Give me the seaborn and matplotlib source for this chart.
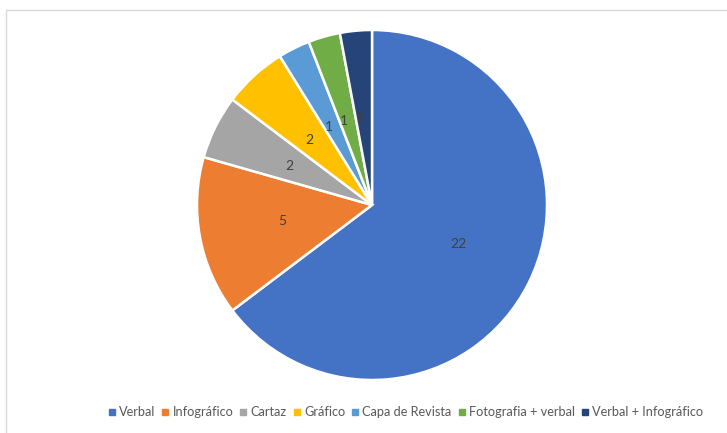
import matplotlib
matplotlib.use("Agg")
import matplotlib.pyplot as plt
from matplotlib.lines import Line2D
from matplotlib.patches import Rectangle
import seaborn as sns

categories = ["Verbal", "Infográfico", "Cartaz", "Gráfico", "Capa de Revista",
              "Fotografia + verbal", "Verbal + Infográfico"]
counts = [22, 5, 2, 2, 1, 1, 1]
colors = ["#4472C4", "#ED7D31", "#A5A5A5", "#FFC000", "#5B9BD5", "#70AD47", "#264478"]

sns.set_theme(style="white")
plt.rcParams["font.family"] = ["Lato", "DejaVu Sans"]

W, H = 727, 433
fig = plt.figure(figsize=(W / 100, H / 100), dpi=100)
fig.patch.set_facecolor("white")

# outer chart frame
fig.patches.append(Rectangle((6 / W, -0.1), 1.2, (H - 10) / H + 0.1,
                             transform=fig.transFigure, fill=False,
                             edgecolor="#D9D9D9", linewidth=1.0))

cx, cy, r = 372, 205, 175
ax = fig.add_axes([(cx - r) / W, (H - cy - r) / H, 2 * r / W, 2 * r / H])
palette = sns.color_palette(colors)
wedges, texts = ax.pie(counts, colors=palette, startangle=90, counterclock=False,
                       labels=[str(c) for c in counts], labeldistance=0.5,
                       radius=1.0,
                       wedgeprops=dict(edgecolor="white", linewidth=1.8),
                       textprops=dict(color="#404040", fontsize=10))
ax.set_xlim(-1, 1)
ax.set_ylim(-1, 1)
ax.set_aspect("equal")
ax.axis("off")

handles = [Line2D([], [], marker="s", linestyle="none", markersize=3.8,
                  markerfacecolor=c, markeredgecolor=c) for c in colors]
fig.legend(handles, categories, loc="center", bbox_to_anchor=(406 / W, 1 - 412 / H),
           ncol=len(categories), frameon=False, fontsize=9.2, labelcolor="#595959",
           handlelength=0.45, handletextpad=0.35, columnspacing=0.55)

fig.savefig("out.png", dpi=100, facecolor="white")
